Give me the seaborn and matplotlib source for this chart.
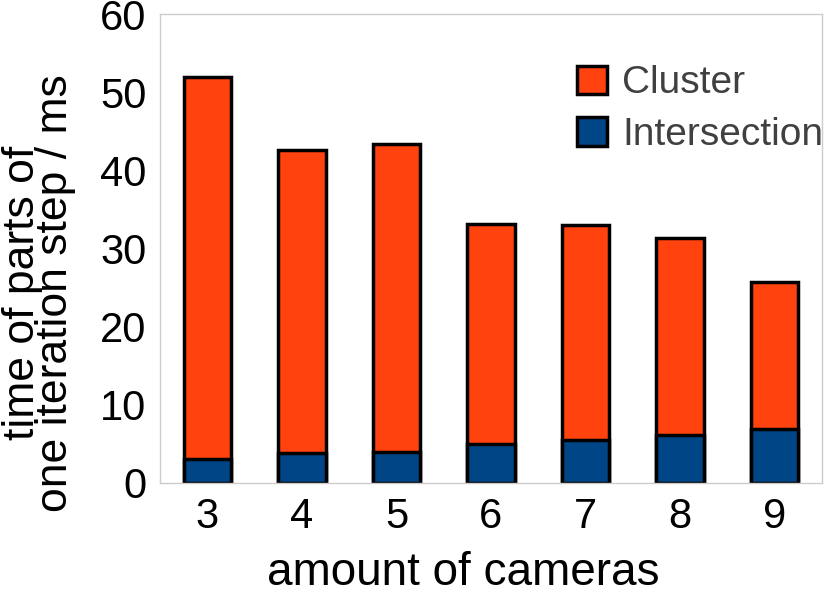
import numpy as np
import pandas as pd
import matplotlib
matplotlib.use('Agg')
import matplotlib.pyplot as plt
import seaborn as sns
from matplotlib.patches import Patch

cameras = ['3', '4', '5', '6', '7', '8', '9']
intersection = [3.1, 3.8, 4.0, 5.0, 5.5, 6.1, 6.9]
cluster = [48.9, 38.8, 39.4, 28.1, 27.5, 25.2, 18.8]

df = pd.DataFrame({'cameras': cameras, 'Intersection': intersection, 'Cluster': cluster})
df['total'] = df['Intersection'] + df['Cluster']

sns.set_style('white')
plt.rcParams['font.family'] = ['Liberation Sans', 'DejaVu Sans']

c_cluster = '#ff420e'
c_inter = '#004586'

fig, ax = plt.subplots(figsize=(8.3, 5.96), dpi=100)
fig.subplots_adjust(left=0.193, right=0.990, bottom=0.190, top=0.9765)

sns.barplot(data=df, x='cameras', y='total', color=c_cluster, width=0.5,
            edgecolor='black', linewidth=2.5, saturation=1, ax=ax)
sns.barplot(data=df, x='cameras', y='Intersection', color=c_inter, width=0.5,
            edgecolor='black', linewidth=2.5, saturation=1, ax=ax)

ax.set_xlim(-0.5, 6.5)
ax.set_ylim(0, 60)
ax.set_yticks(np.arange(0, 61, 10))
ax.tick_params(axis='both', labelsize=30, length=0, pad=10, labelcolor='black')
ax.set_xlabel('amount of cameras', fontsize=33, color='black')
ax.set_ylabel('time of parts of\none iteration step / ms', fontsize=32,
              linespacing=0.75, color='black')
ax.xaxis.set_label_coords(0.458, -0.145)
ax.yaxis.set_label_coords(-0.128, 0.405)
for s in ax.spines.values():
    s.set_color('#cccccc')
    s.set_linewidth(1)

handles = [Patch(facecolor=c_cluster, edgecolor='black', linewidth=2.5, label='Cluster'),
           Patch(facecolor=c_inter, edgecolor='black', linewidth=2.5, label='Intersection')]
leg = ax.legend(handles=handles, loc='upper right', bbox_to_anchor=(1.055, 0.965),
                frameon=False, fontsize=28, handlelength=0.75, handleheight=0.75,
                handletextpad=0.4, labelspacing=0.4, labelcolor='#404040')

fig.savefig('out.png', dpi=100)
